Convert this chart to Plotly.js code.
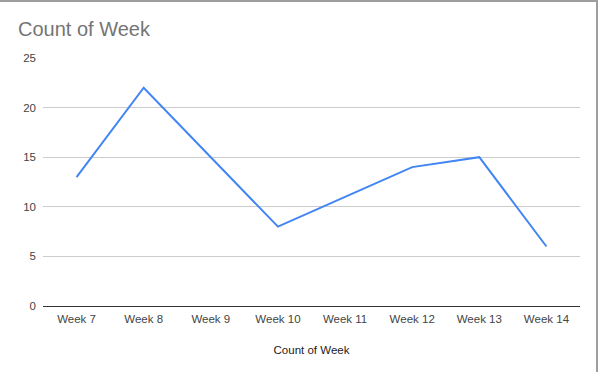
<!DOCTYPE html>
<html>
<head>
<meta charset="utf-8">
<script src="https://cdn.plot.ly/plotly-3.0.1.min.js"></script>
<style>
html,body{margin:0;padding:0;background:#fff;}
#frame{position:absolute;left:0;top:0;width:596px;height:370px;border-top:2px solid #9e9e9e;border-right:2px solid #9e9e9e;pointer-events:none;z-index:10;}
#chart{position:absolute;left:0;top:0;width:600px;height:372px;}
</style>
</head>
<body>
<div id="chart"></div>
<div id="frame"></div>
<script>
const weeks = ["Week 7","Week 8","Week 9","Week 10","Week 11","Week 12","Week 13","Week 14"];
const counts = [13, 22, 15, 8, 11, 14, 15, 6];
const yTicks = [0, 5, 10, 15, 20, 25];

Plotly.newPlot("chart", [{
  type: "scatter",
  mode: "lines",
  x: weeks,
  y: counts,
  line: {color: "#4285F4", width: 2},
  hoverinfo: "x+y"
}], {
  width: 600,
  height: 372,
  margin: {l: 43, r: 20, t: 58, b: 66},
  paper_bgcolor: "#fff",
  plot_bgcolor: "#fff",
  font: {family: "Arial, Liberation Sans, sans-serif", size: 11, color: "#444"},
  title: {
    text: "Count of Week",
    x: 0, xref: "container", xanchor: "left",
    y: 1, yref: "container", yanchor: "top",
    pad: {l: 18, t: 22},
    font: {family: "Arial, Liberation Sans, sans-serif", size: 20, color: "#757575"}
  },
  showlegend: false,
  xaxis: {
    type: "category",
    range: [-0.5, 7.5],
    showgrid: false,
    showline: false,
    zeroline: false,
    ticks: "",
    ticklabelstandoff: 4,
    tickfont: {size: 11.5, color: "#444"},
    title: {text: "Count of Week", standoff: 22, font: {size: 11.5, color: "#222"}}
  },
  yaxis: {
    range: [0, 25],
    tickvals: yTicks,
    ticktext: yTicks.map(String),
    showgrid: true,
    gridcolor: "#cccccc",
    gridwidth: 1,
    zeroline: true,
    zerolinecolor: "#333",
    zerolinewidth: 1,
    showline: false,
    ticks: "",
    ticklabelstandoff: 6,
    tickfont: {size: 11.5, color: "#444"}
  }
}, {displayModeBar: false, staticPlot: true});
</script>
</body>
</html>
